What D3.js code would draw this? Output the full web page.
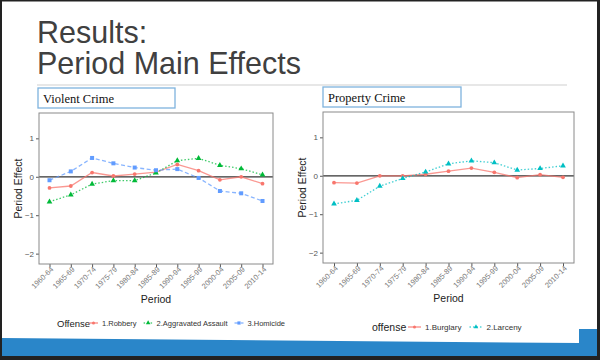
<!DOCTYPE html>
<html><head><meta charset="utf-8">
<script src="https://cdn.jsdelivr.net/npm/d3@7/dist/d3.min.js"></script>
<style>body{margin:0;background:#fff}svg{display:block}</style>
</head><body>
<script>
const periods = ["1960-64","1965-69","1970-74","1975-79","1980-84","1985-89","1990-94","1995-99","2000-04","2005-09","2010-14"];
const yTicks = [1, 0, -1, -2];
const robbery   = [-0.29,-0.24,0.11,0.02,0.07,0.12,0.32,0.16,-0.08,0.00,-0.18];
const aggAssault= [-0.65,-0.47,-0.19,-0.10,-0.10,0.10,0.42,0.48,0.30,0.21,0.05];
const homicide  = [-0.09,0.14,0.49,0.35,0.24,0.17,0.20,-0.03,-0.37,-0.43,-0.63];
const burglary  = [-0.18,-0.19,0.00,0.00,0.04,0.12,0.20,0.09,-0.05,0.03,-0.04];
const larceny   = [-0.73,-0.64,-0.27,-0.07,0.10,0.31,0.39,0.34,0.15,0.19,0.26];
const violentNames = ["1.Robbery","2.Aggravated Assault","3.Homicide"];
const propertyNames = ["1.Burglary","2.Larceny"];

const W=600,H=360;
const svg=d3.select("body").append("svg").attr("width",W).attr("height",H);
const FONT="'Liberation Sans', Arial, sans-serif";

// slide frame
svg.append("rect").attr("width",W).attr("height",H).attr("fill","#fff");
svg.append("path").attr("d","M2,338 L579,343 L579,329 L598,329 L598,356 L2,356 Z").attr("fill","#2a86c9");
svg.append("rect").attr("x",0).attr("y",0).attr("width",2).attr("height",H).attr("fill","#222");
svg.append("rect").attr("x",597).attr("y",0).attr("width",3).attr("height",H).attr("fill","#222");
svg.append("rect").attr("x",0).attr("y",0).attr("width",W).attr("height",1.5).attr("fill","#222");
svg.append("rect").attr("x",0).attr("y",356).attr("width",W).attr("height",4).attr("fill","#222");

// title
svg.append("text").attr("x",37).attr("y",43).attr("font-family",FONT).attr("font-size",30.5).attr("fill","#404040").text("Results:");
svg.append("text").attr("x",37).attr("y",73.5).attr("font-family",FONT).attr("font-size",30.5).attr("fill","#404040").text("Period Main Effects");
svg.append("line").attr("x1",37).attr("x2",567).attr("y1",85).attr("y2",85).attr("stroke","#d0d0d0").attr("stroke-width",1.2);

function panelLabel(x,y,w,h,t){
  svg.append("rect").attr("x",x).attr("y",y).attr("width",w).attr("height",h).attr("fill","#fff").attr("stroke","#7eb3de").attr("stroke-width",1.3);
  svg.append("text").attr("x",x+5).attr("y",y+h/2+4.5).attr("font-family","'Liberation Serif', 'Times New Roman', serif").attr("font-size",12.5).attr("fill","#111").text(t);
}
panelLabel(38,88,137,20,"Violent Crime");
panelLabel(323,87,138,20,"Property Crime");

const dashes={solid:null,dotted:"1.5,2",dashed:"4,2.5"};

function panel(cfg){
  const x=d3.scalePoint().domain(periods).range([cfg.x0+cfg.pad,cfg.x1-cfg.pad]);
  const y=d3.scaleLinear().domain([-2.27,1.66]).range([cfg.y1,cfg.y0]);
  const g=svg.append("g");
  g.append("rect").attr("x",cfg.x0).attr("y",cfg.y0).attr("width",cfg.x1-cfg.x0).attr("height",cfg.y1-cfg.y0).attr("fill","#fff");
  g.append("line").attr("x1",cfg.x0).attr("x2",cfg.x1).attr("y1",y(0)).attr("y2",y(0)).attr("stroke","#333").attr("stroke-width",1.2);
  const ya=g.append("g").attr("transform",`translate(${cfg.x0},0)`).call(d3.axisLeft(y).tickValues(yTicks).tickSize(3).tickPadding(2).tickFormat(d3.format("d")));
  ya.select(".domain").remove();
  ya.selectAll("line").attr("stroke","#555");
  ya.selectAll("text").attr("font-family",FONT).attr("font-size",8).attr("fill","#555");
  const xa=g.append("g").attr("transform",`translate(0,${cfg.y1})`).call(d3.axisBottom(x).tickSize(3));
  xa.select(".domain").remove();
  xa.selectAll("line").attr("stroke","#555");
  xa.selectAll("text").attr("font-family",FONT).attr("font-size",7.5).attr("fill","#7a7a7a")
    .attr("text-anchor","end").attr("transform","translate(2,4) rotate(-45)").attr("dy","0.35em").attr("dx",0).attr("y",0).attr("x",0);
  cfg.series.forEach(s=>{
    const line=d3.line().x((d,i)=>x(periods[i])).y(d=>y(d));
    g.append("path").datum(s.values).attr("d",line).attr("fill","none").attr("stroke",s.color).attr("stroke-opacity",0.75)
      .attr("stroke-width",1.3).attr("stroke-dasharray",dashes[s.dash]);
    s.values.forEach((v,i)=>drawMarker(g,s.shape,x(periods[i]),y(v),s.color));
  });
  g.append("rect").attr("x",cfg.x0).attr("y",cfg.y0).attr("width",cfg.x1-cfg.x0).attr("height",cfg.y1-cfg.y0).attr("fill","none").attr("stroke","#8a8a8a").attr("stroke-width",1);
  svg.append("text").attr("transform",`translate(${cfg.x0-17},${(cfg.y0+cfg.y1)/2}) rotate(-90)`).attr("text-anchor","middle")
    .attr("font-family",FONT).attr("font-size",10.5).attr("fill","#222").text("Period Effect");
  svg.append("text").attr("x",(cfg.x0+cfg.x1)/2).attr("y",cfg.periodY).attr("text-anchor","middle")
    .attr("font-family",FONT).attr("font-size",10.5).attr("fill","#222").text("Period");
  const lg=svg.append("g").attr("transform",`translate(${cfg.legX},${cfg.legY})`);
  lg.append("text").attr("x",0).attr("y",3.5).attr("font-family",FONT).attr("font-size",cfg.legTitleSize).attr("fill","#222").text(cfg.legTitle);
  let cx=cfg.legTitleW;
  cfg.series.forEach(s=>{
    lg.append("line").attr("x1",cx).attr("x2",cx+cfg.keyW).attr("y1",0).attr("y2",0).attr("stroke",s.color).attr("stroke-width",1.1).attr("stroke-dasharray",dashes[s.dash]);
    drawMarker(lg,s.shape,cx+cfg.keyW/2,0,s.color,0.8);
    const t=lg.append("text").attr("x",cx+cfg.keyW+4).attr("y",3).attr("font-family",FONT).attr("font-size",cfg.legSize).attr("fill","#333").text(s.name);
    cx+=cfg.keyW+4+t.node().getComputedTextLength()+cfg.gap;
  });
}
function drawMarker(g,shape,cx,cy,color,sc=1){
  if(shape==="circle") g.append("circle").attr("cx",cx).attr("cy",cy).attr("r",1.9*sc).attr("fill",color);
  else if(shape==="square") g.append("rect").attr("x",cx-2*sc).attr("y",cy-2*sc).attr("width",4*sc).attr("height",4*sc).attr("fill",color);
  else g.append("path").attr("d",d3.symbol(d3.symbolTriangle,14*sc*sc)()).attr("transform",`translate(${cx},${cy})`).attr("fill",color);
}

panel({x0:39,x1:273,y0:113,y1:264,pad:10.5,periodY:303,
  legX:57,legY:323,legTitle:"Offense",legTitleSize:9.5,legTitleW:32,legSize:7.5,keyW:9,gap:7,
  series:[
    {name:violentNames[0],values:robbery,color:"#F8766D",dash:"solid",shape:"circle"},
    {name:violentNames[1],values:aggAssault,color:"#00BA38",dash:"dotted",shape:"triangle"},
    {name:violentNames[2],values:homicide,color:"#619CFF",dash:"dashed",shape:"square"}
  ]});
panel({x0:323,x1:574,y0:112,y1:263,pad:11,periodY:302,
  legX:372,legY:327,legTitle:"offense",legTitleSize:10.5,legTitleW:36,legSize:8,keyW:13,gap:8,
  series:[
    {name:propertyNames[0],values:burglary,color:"#F8766D",dash:"solid",shape:"circle"},
    {name:propertyNames[1],values:larceny,color:"#00BFC4",dash:"dotted",shape:"triangle"}
  ]});
</script>
</body></html>
